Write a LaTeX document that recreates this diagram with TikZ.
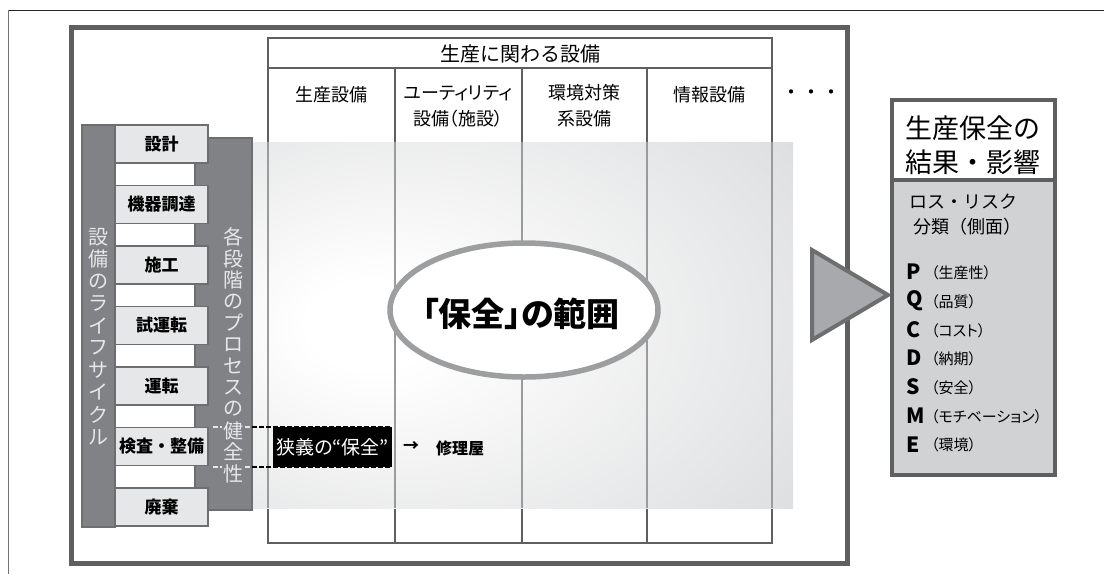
\documentclass[tikz,border=0pt]{standalone}
\usepackage{fontspec}
\setmainfont{Noto Sans CJK JP}
\newfontfamily\paltfont{Noto Sans CJK JP}[RawFeature=+palt]
\usetikzlibrary{shapes.geometric}
\definecolor{frame}{HTML}{5E5F61}
\definecolor{barfill}{HTML}{808285}
\definecolor{barline}{HTML}{6D6E70}
\definecolor{stagefill}{HTML}{E6E7E8}
\definecolor{collight}{HTML}{9A9B9D}
\definecolor{shadeout}{HTML}{D5D6D8}
\definecolor{rightfill}{HTML}{D1D2D4}
\definecolor{trifill}{HTML}{A7A9AC}
\definecolor{ellline}{HTML}{9D9EA0}
\pgfdeclareradialshading{rangeshade}{\pgfpoint{-15bp}{0bp}}{color(0bp)=(white); color(6bp)=(white); color(50bp)=(shadeout); color(75bp)=(shadeout)}
\newcommand{\fs}[1]{\fontsize{#1}{#1}\selectfont}
\begin{document}
\begin{tikzpicture}[x=1pt,y=-1pt,
  txt/.style={inner sep=0pt, anchor=center},
  colline/.style={draw=frame, line width=2.5pt},
  collinelight/.style={draw=collight, line width=2.5pt},
  stagebox/.style={draw=barline, line width=1.5pt, fill=stagefill},
  stagetxt/.style={txt, font=\fs{17}\bfseries},
  vtxt/.style={txt, font=\fs{20}, text=stagefill},
  coltxt/.style={txt, font=\paltfont\fs{18}},
  dashline/.style={line width=2.5pt, dash pattern=on 4.5pt off 2.5pt},
  lettertxt/.style={inner sep=0pt, anchor=west, font=\fs{21}\bfseries},
  parentxt/.style={inner sep=0pt, anchor=west, font=\paltfont\fs{15}}]
\useasboundingbox (0,0) rectangle (1104,574);
\fill[white] (0,0) rectangle (1104,574);
% page lines
\coordinate (tl) at (8.5,10);
\coordinate (tr) at (1104,10);
\coordinate (bl) at (8.5,574);
\draw[line width=1pt, black!85] (tl) -- (tr);
\draw[line width=1pt, black!55] (tl) -- (bl);
% outer frame
\draw[draw=frame, line width=5pt] (71,27) rectangle (847,563);
% columns table
\draw[colline] (268,38) rectangle (772,543);
\draw[colline] (268,68) -- (772,68);
\foreach \x in {395,522,647} \draw[colline] (\x,68) -- (\x,543);
% shaded scope
\shade[shading=rangeshade] (250,142) rectangle (793,508);
\foreach \x in {268,395,522,647,772} \draw[collinelight] (\x,142) -- (\x,508);
% column texts
\node[txt, font=\fs{20}] (hdr) at (520,54) {生産に関わる設備};
\node[coltxt] (c1) at (331,95) {生産設備};
\node[coltxt] (c2a) at (458,93) {ユーティリティ};
\node[coltxt] (c2b) at (458,119) {設備（施設）};
\node[coltxt] (c3a) at (584,93) {環境対策};
\node[coltxt] (c3b) at (584,119) {系設備};
\node[coltxt] (c4) at (709,95) {情報設備};
\node[txt, font=\fs{20}] (dots) at (811,95) {・・・};
% left lifecycle bar and process panel
\draw[draw=barline, line width=1.5pt, fill=barfill] (82,125) rectangle (115,527);
\draw[draw=barline, line width=1.5pt, fill=barfill] (195,138) rectangle (252,510);
\foreach \c [count=\i from 0] in {設,備,の,ラ,イ,フ,サ,イ,ク,ル}
  \node[vtxt] (lc\i) at (98.5,{237+\i*22.2}) {\c};
\foreach \c [count=\i from 0] in {各,段,階,の,プ,ロ,セ,ス,の,健,全,性}
  \node[vtxt] (pr\i) at (233,{237+\i*21.5}) {\c};
% stage boxes
\foreach \t [count=\i from 0] in {設計,機器調達,施工,試運転,運転,検査・整備,廃棄} {
  \draw[stagebox] (115,{125+\i*60.5}) rectangle (208,{163+\i*60.5});
  \node[stagetxt] (st\i) at (161.5,{144+\i*60.5}) {\t};
}
% narrow sense box and dashed lines
\fill[black] (273,427) rectangle (392,467);
\node[txt, font=\paltfont\fs{19}, text=white] (narrow) at (332.5,447) {狭義の“保全”};
\coordinate (da1) at (213,427); \coordinate (da2) at (222,427);
\coordinate (da3) at (245,427); \coordinate (da4) at (252,427);
\coordinate (da5) at (392,427);
\coordinate (db1) at (213,467); \coordinate (db2) at (222,467);
\coordinate (db3) at (245,467); \coordinate (db4) at (252,467);
\coordinate (db5) at (392,467);
\draw[dashline, draw=stagefill] (da1) -- (da2) (da3) -- (da4);
\draw[dashline, draw=stagefill] (db1) -- (db2) (db3) -- (db4);
\draw[dashline, draw=black] (da4) -- (da5);
\draw[dashline, draw=black] (db4) -- (db5);
\node[txt, font=\fs{16}\bfseries] (arr) at (411,447) {→};
\node[txt, font=\fs{16}\bfseries] (repair) at (460,448) {修理屋};
% ellipse
\node[ellipse, draw=ellline, line width=5.5pt, fill=white, minimum width=268pt, minimum height=134pt, inner sep=0pt] (scope) at (524,310) {};
\node[txt, font=\paltfont\fs{33}\bfseries] (scopetxt) at (521,314) {「保全」の範囲};
% triangle arrow
\coordinate (t1) at (812,250); \coordinate (t2) at (888,295); \coordinate (t3) at (812,340);
\draw[fill=trifill, draw=barline, line width=4pt, line join=miter] (t1) -- (t2) -- (t3) -- cycle;
% right box
\fill[rightfill] (892,180) rectangle (1055,475);
\draw[draw=frame, line width=4.5pt] (892,100) rectangle (1055,475);
\draw[draw=frame, line width=4pt] (892,180) -- (1055,180);
\node[txt, font=\fs{27}] (r1) at (973,128) {生産保全の};
\node[txt, font=\fs{27}] (r2) at (973,162) {結果・影響};
\node[inner sep=0pt, anchor=west, font=\fs{18}] (r3) at (909,202) {ロス・リスク};
\node[inner sep=0pt, anchor=west, font=\fs{18}] (r4) at (913,227) {分類（側面）};
\foreach \l/\p [count=\i from 0] in {P/（生産性）,Q/（品質）,C/（コスト）,D/（納期）,S/（安全）,M/（モチベーション）,E/（環境）} {
  \node[lettertxt] (L\i) at (906,{272+\i*28.7}) {\l};
  \node[parentxt] (Pn\i) at (931,{273+\i*28.7}) {\p};
}
\end{tikzpicture}
\end{document}
